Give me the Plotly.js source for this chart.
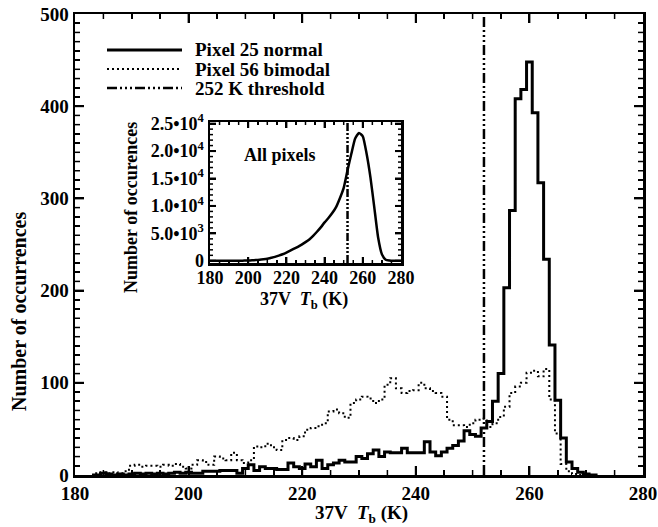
<!DOCTYPE html>
<html><head><meta charset="utf-8">
<script src="https://cdn.plot.ly/plotly-3.0.1.min.js"></script>
<style>html,body{margin:0;padding:0;background:#fff}
#wrap{position:relative;width:658px;height:527px}
#chart,#inset{position:absolute;left:0;top:0;width:658px;height:527px}</style>
</head><body><div id="wrap"><div id="chart"></div><div id="inset"></div></div>
<script>
// ---- data (bin centres in K, counts per 1 K bin) ----
const binCenters = [
 183,184,185,186,187,188,189,190,191,192,
 193,194,195,196,197,198,199,200,201,202,
 203,204,205,206,207,208,209,210,211,212,
 213,214,215,216,217,218,219,220,221,222,
 223,224,225,226,227,228,229,230,231,232,
 233,234,235,236,237,238,239,240,241,242,
 243,244,245,246,247,248,249,250,251,252,
 253,254,255,256,257,258,259,260,261,262,
 263,264,265,266,267,268,269,270,271,272];
const pixel25Normal = [
 0,0,2,1,0,1,0,1,2,1,
 2,1,2,1,2,3,2,3,2,2,
 4,4,4,5,5,5,2,7,11,5,
 9,7,7,6,6,13,9,7,12,9,
 16,7,11,13,16,14,14,20,18,23,
 27,20,25,24,24,29,24,24,24,36,
 25,21,25,29,32,37,48,44,42,51,
 58,80,110,203,287,408,418,448,393,317,
 234,141,81,40,14,7,3,1,0,0];
const pixel56Bimodal = [
 0,2,3,2,3,2,4,10,11,9,
 10,10,9,11,10,12,9,7,11,16,
 14,11,20,18,16,24,16,13,16,31,
 30,34,30,27,38,40,38,42,49,51,
 53,56,69,71,67,62,78,82,85,83,
 78,82,98,105,94,89,91,92,100,94,
 91,89,85,60,54,54,52,56,60,61,
 52,56,63,74,89,96,100,111,113,107,
 115,82,45,12,4,1,0,0,0,0];
const insetTb = [180,182,184,186,188,190,192,194,196,198,200,202,204,206,208,210,
 212,214,216,218,220,222,224,226,228,230,232,234,236,238,240,242,244,246,248,250,
 252,254,256,258,260,262,264,266,268,270,272,274,276,278,280];
const allPixels = [0,0,0,0,0,5,10,15,25,40,60,90,140,200,280,380,
 540,720,950,1200,1500,1850,2200,2550,2950,3400,3900,4550,5300,6100,7000,7800,8700,9800,11400,13300,
 16500,19500,22300,23300,22700,19500,15200,9800,4300,1200,200,60,10,0,0];
const threshold = 252;
const legendLabels = ['Pixel 25 normal','Pixel 56 bimodal','252 K threshold'];
const mainXRange = [180,280];
const mainYRange = [0,500];
const insetXRange = [180,280];
const insetYTickVals = [0,5000,10000,15000,20000,25000];
const insetYTickText = ['0','5.0\u202210<sup>3</sup>','1.0\u202210<sup>4</sup>','1.5\u202210<sup>4</sup>','2.0\u202210<sup>4</sup>','2.5\u202210<sup>4</sup>'];
const insetYRange = [-400,25300];

// ---- styling ----
const FAM = 'Liberation Serif';
const fnt = (s)=>({family:FAM,size:s,color:'#000',weight:'bold'});
const DASHDOT3 = '10px,3px,2px,3px,2px,3px,2px,3px';
const axBase = {showline:true,linecolor:'#000',linewidth:2.5,mirror:'ticks',ticks:'inside',tickcolor:'#000',tickwidth:2,
  showgrid:false,zeroline:false};
const cfg = {displayModeBar:false,staticPlot:true};

// inward tick marks on all four sides, built as line traces through the axes (axis decoration)
function tickTraces(xr,xStep,xMinor,yr,yStart,yStep,yMinor,wPx,hPx,majLen,minLen){
  const out={maj:{x:[],y:[]},min:{x:[],y:[]}};
  const dyPer=(yr[1]-yr[0])/hPx, dxPer=(xr[1]-xr[0])/wPx;
  for(let v=xr[0]+xMinor; v<xr[1]-1e-9; v+=xMinor){
    const k=(v-xr[0])/xStep, maj=Math.abs(k-Math.round(k))<1e-6, o=maj?out.maj:out.min, L=(maj?majLen:minLen)*dyPer;
    o.x.push(v,v,null,v,v,null); o.y.push(yr[0],yr[0]+L,null,yr[1],yr[1]-L,null);
  }
  for(let v=yStart; v<yr[1]-1e-9; v+=yMinor){
    if(v<=yr[0]) continue;
    const k=(v-yStart)/yStep, maj=Math.abs(k-Math.round(k))<1e-6, o=maj?out.maj:out.min, L=(maj?majLen:minLen)*dxPer;
    o.x.push(xr[0],xr[0]+L,null,xr[1],xr[1]-L,null); o.y.push(v,v,null,v,v,null);
  }
  return [
    {x:out.maj.x,y:out.maj.y,type:'scatter',mode:'lines',line:{color:'#000',width:2},connectgaps:false,cliponaxis:false,hoverinfo:'skip'},
    {x:out.min.x,y:out.min.y,type:'scatter',mode:'lines',line:{color:'#000',width:1.5},connectgaps:false,cliponaxis:false,hoverinfo:'skip'}
  ];
}

// ---------- main plot (plot area 75..643 x 14..475) ----------
const px = (p)=>(p-75)/568, py = (p)=>(475-p)/461;
const ann = (text,x,y,size,extra)=>Object.assign({text:text,xref:'paper',yref:'paper',x:x,y:y,
  xanchor:'center',yanchor:'middle',showarrow:false,font:fnt(size)},extra||{});

const mainTraces = [
 {x:binCenters,y:pixel25Normal,type:'scatter',mode:'lines',line:{shape:'hvh',color:'#000',width:3}},
 {x:binCenters,y:pixel56Bimodal,type:'scatter',mode:'lines',line:{shape:'hvh',color:'#000',width:2,dash:'2px,3px'}},
 {x:[threshold,threshold],y:mainYRange,type:'scatter',mode:'lines',line:{color:'#000',width:2.5,dash:DASHDOT3}}
].concat(tickTraces(mainXRange,20,5,mainYRange,0,100,10,568,461,9,5));
const legendRows = [50,69,88];
const legendStyles = [{width:3,dash:'solid'},{width:2,dash:'2px,3px'},{width:2.5,dash:DASHDOT3}];
const mainShapes = legendRows.map((r,i)=>({type:'line',xref:'paper',yref:'paper',x0:px(107),x1:px(182),y0:py(r),y1:py(r),
  line:{color:'#000',width:legendStyles[i].width,dash:legendStyles[i].dash}}));
const mainAnn = [
 ann('Number of occurrences',px(19),py(312),20,{textangle:-90}),
 ann('37V  <i>T</i><sub>b</sub> (K)',px(361),py(514),19)
].concat(legendRows.map((r,i)=>ann(legendLabels[i],px(193),py(r),19,{xanchor:'left'})));

Plotly.newPlot('chart',mainTraces,{
 width:658,height:527,margin:{l:75,r:15,t:14,b:52},showlegend:false,
 xaxis:Object.assign({},axBase,{range:mainXRange,dtick:20,tick0:180,ticklen:9,tickfont:fnt(19),
   minor:{ticks:'inside',dtick:5,ticklen:5,tickwidth:1.5,tickcolor:'#000'}}),
 yaxis:Object.assign({},axBase,{range:mainYRange,dtick:100,tick0:0,ticklen:9,tickfont:fnt(19),
   minor:{ticks:'inside',dtick:10,ticklen:5,tickwidth:1.5,tickcolor:'#000'}}),
 shapes:mainShapes,annotations:mainAnn
},cfg);

// ---------- inset plot (plot area 210..401 x 122..263) ----------
const qx = (p)=>(p-210)/191, qy = (p)=>(263-p)/141;
const insetTraces = [
 {x:insetTb,y:allPixels,type:'scatter',mode:'lines',line:{color:'#000',width:2.5,shape:'spline',smoothing:0.5}},
 {x:[threshold,threshold],y:insetYRange,type:'scatter',mode:'lines',line:{color:'#000',width:2.5,dash:'8px,2px,2px,2px,2px,2px,2px,2px'}}
].concat(tickTraces(insetXRange,20,5,insetYRange,0,5000,1000,191,141,6,3));
const insetAnn = [
 ann('Number of occurences',qx(131),qy(208),18,{textangle:-90}),
 ann('37V  <i>T</i><sub>b</sub> (K)',qx(304),qy(300),18),
 ann('All pixels',qx(280),qy(155),18)
];
Plotly.newPlot('inset',insetTraces,{
 width:658,height:527,margin:{l:210,r:257,t:122,b:264},paper_bgcolor:'rgba(0,0,0,0)',plot_bgcolor:'#fff',showlegend:false,
 xaxis:Object.assign({},axBase,{range:insetXRange,dtick:20,tick0:180,ticklen:6,tickfont:fnt(18),ticklabelstandoff:-3,
   minor:{ticks:'inside',dtick:5,ticklen:3,tickwidth:1.5,tickcolor:'#000'}}),
 yaxis:Object.assign({},axBase,{range:insetYRange,tickmode:'array',tickvals:insetYTickVals,ticktext:insetYTickText,ticklen:6,tickfont:fnt(18)}),
 annotations:insetAnn
},cfg);
</script></body></html>
